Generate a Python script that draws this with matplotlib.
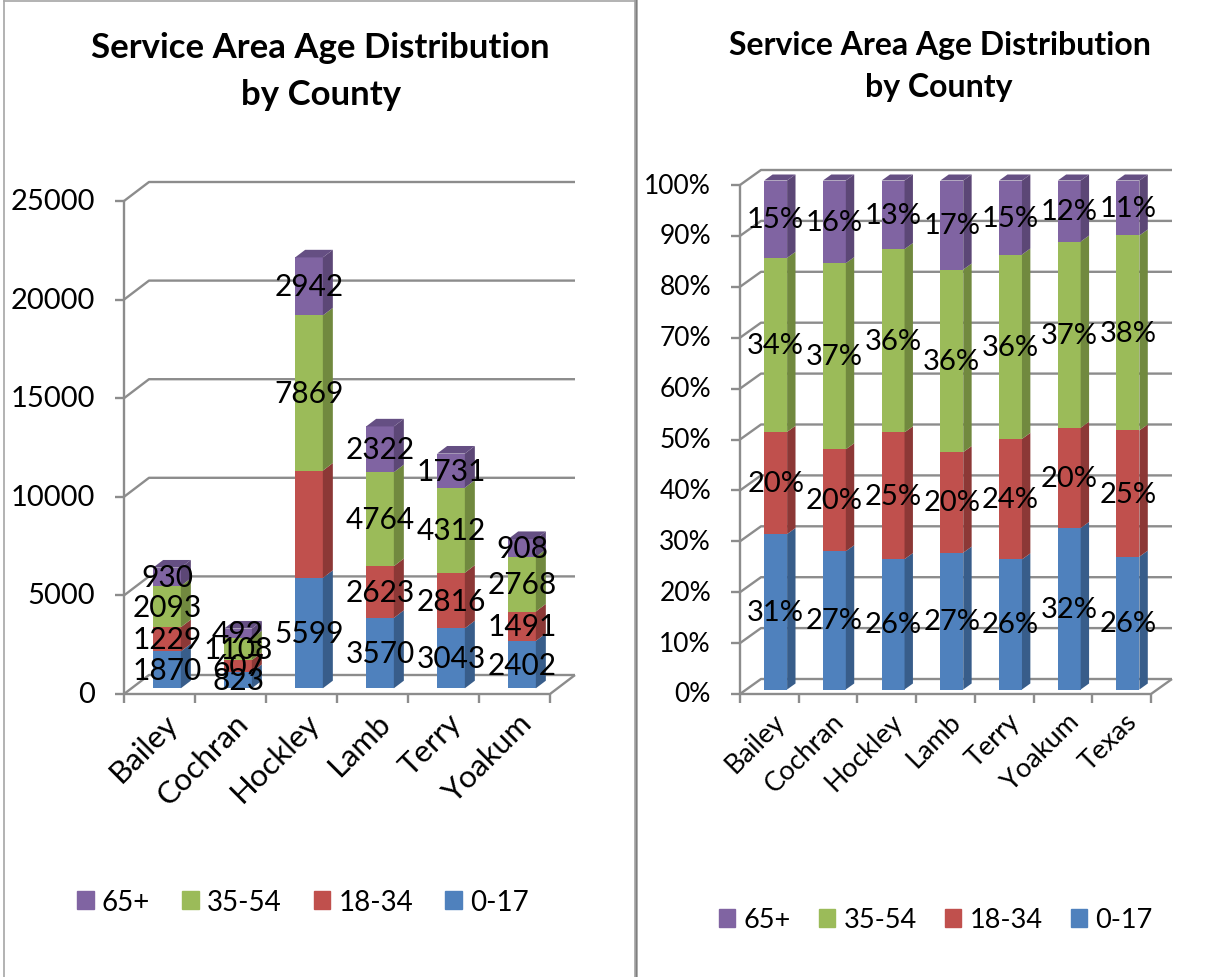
import matplotlib.pyplot as plt
from matplotlib.patches import Polygon, Patch

plt.rcParams['font.family'] = ['Lato', 'DejaVu Sans']

# data
counties = ['Bailey', 'Cochran', 'Hockley', 'Lamb', 'Terry', 'Yoakum']
age_0_17 = [1870, 823, 5599, 3570, 3043, 2402]
age_18_34 = [1229, 607, 5440, 2623, 2816, 1491]   # Hockley value has no label in the original
age_35_54 = [2093, 1108, 7869, 4764, 4312, 2768]
age_65_up = [930, 492, 2942, 2322, 1731, 908]
texas_pct = [26.1, 24.8, 38.3, 10.8]               # 0-17, 18-34, 35-54, 65+
series_names = ['0-17', '18-34', '35-54', '65+']

front_cols = ['#4F81BD', '#C0504D', '#9BBB59', '#8064A2']
side_cols = ['#385D8A', '#8C3836', '#71893F', '#5C4776']
top_col = '#654F83'

W, H = 1230, 978
fig = plt.figure(figsize=(W / 100, H / 100), dpi=100)


def fx(px):
    return px / W


def fy(py):
    return 1 - py / H


def plot_axes(x0, x1, y0, y1, ncat, ymax):
    # axes = front plane of the 3d box (pixel box given)
    ax = fig.add_axes([fx(x0), fy(y0), (x1 - x0) / W, (y0 - y1) / H])
    ax.set_xlim(0, ncat)
    ax.set_ylim(0, ymax)
    ax.axis('off')
    return ax


def draw_chart(ax, cats, stacks, ymax, yticks, yfmt, wall, labels, lsize, tsize, xsize):
    ncat = len(cats)
    pos = ax.get_position()
    kx = pos.width * W / ncat
    ky = pos.height * H / ymax
    wdx = wall[0] / kx
    wdy = wall[1] / ky
    gs = dict(color='#8C8C8C', lw=1.7, solid_capstyle='butt', clip_on=False, zorder=1)

    # walls / gridlines
    for v in yticks:
        ax.plot([0, wdx, ncat + wdx], [v, v + wdy, v + wdy], **gs)
        ax.plot([-9 / kx, 0], [v, v], **gs)
        ax.text(-29 / kx, v, yfmt(v), ha='right', va='center', fontsize=tsize)
    ax.plot([0, 0], [0, ymax], **gs)
    ax.plot([0, ncat, ncat + wdx], [0, 0, wdy], **gs)
    for i in range(ncat + 1):
        ax.plot([i, i], [0, -9 / ky], **gs)

    # bars
    bw = 0.39
    bdx, bdy = 0.4 * wdx, 0.4 * wdy
    for i in range(ncat):
        xc = i + 0.5 + 0.3 * wdx
        base = 0.3 * wdy
        b = 0
        for j, vals in enumerate(stacks):
            h = vals[i]
            ax.bar(xc, h, bottom=base + b, width=bw, color=front_cols[j],
                   clip_on=False, zorder=3)
            xr = xc + bw / 2
            y0, y1 = base + b, base + b + h
            ax.add_patch(Polygon([(xr, y0), (xr + bdx, y0 + bdy), (xr + bdx, y1 + bdy), (xr, y1)],
                                 closed=True, fc=side_cols[j], ec='none', clip_on=False, zorder=3))
            if labels[j][i] is not None:
                ax.text(xc, (y0 + y1) / 2, labels[j][i], ha='center', va='center',
                        fontsize=lsize, zorder=6)
            b += h
        xl = xc - bw / 2
        top = base + b
        ax.add_patch(Polygon([(xl, top), (xl + bw, top), (xl + bw + bdx, top + bdy), (xl + bdx, top + bdy)],
                             closed=True, fc=top_col, ec='none', clip_on=False, zorder=3))

    # category labels
    for i, c in enumerate(cats):
        ax.text(i + 0.55, -14 / ky, c, rotation=45, ha='right', va='top',
                rotation_mode='anchor', fontsize=xsize)


# ---- left chart: counts
stacks_l = [age_0_17, age_18_34, age_35_54, age_65_up]
labels_l = [[str(v) for v in s] for s in stacks_l]
labels_l[1][counties.index('Hockley')] = None
ax1 = plot_axes(124, 550, 695, 202, len(counties), 25000)
draw_chart(ax1, counties, stacks_l, 25000, range(0, 25001, 5000), lambda v: '%d' % v,
           (25, 19), labels_l, 21.5, 21, 22.5)

fig.text(fx(320), fy(48), 'Service Area Age Distribution', ha='center', va='center',
         fontsize=25, fontweight='bold')
fig.text(fx(321), fy(95), 'by County', ha='center', va='center', fontsize=25, fontweight='bold')

handles = [Patch(color=front_cols[j]) for j in [3, 2, 1, 0]]
names = [series_names[j] for j in [3, 2, 1, 0]]
fig.legend(handles, names, loc='center', bbox_to_anchor=(fx(303), fy(903)), ncol=4,
           frameon=False, fontsize=20, handlelength=0.6, handleheight=0.6,
           handletextpad=0.3, columnspacing=1.15)

# ---- right chart: shares
cats_r = counties + ['Texas']
totals = [sum(s[i] for s in stacks_l) for i in range(len(counties))]
stacks_r = []
for j, s in enumerate(stacks_l):
    stacks_r.append([s[i] / totals[i] for i in range(len(counties))] + [texas_pct[j] / 100])
labels_r = [['%.0f%%' % (v * 100) for v in s] for s in stacks_r]
ax2 = plot_axes(740, 1151, 695, 186, len(cats_r), 1.0)
draw_chart(ax2, cats_r, stacks_r, 1.0, [k / 10 for k in range(11)], lambda v: '%d%%' % round(v * 100),
           (21, 15), labels_r, 21, 19, 19.5)

fig.text(fx(940), fy(46), 'Service Area Age Distribution', ha='center', va='center',
         fontsize=23, fontweight='bold')
fig.text(fx(939), fy(88), 'by County', ha='center', va='center', fontsize=23, fontweight='bold')

fig.legend(handles, names, loc='center', bbox_to_anchor=(fx(936), fy(921)), ncol=4,
           frameon=False, fontsize=19.5, handlelength=0.6, handleheight=0.6,
           handletextpad=0.3, columnspacing=1.05)

# frame lines of the two chart boxes
fig.add_artist(plt.Line2D([fx(4), fx(4)], [fy(2), 0], color='#A6A6A6', lw=1.2))
fig.add_artist(plt.Line2D([fx(4), fx(635)], [fy(2), fy(2)], color='#A6A6A6', lw=1.2))
fig.add_artist(plt.Line2D([fx(635.5), fx(635.5)], [1, 0], color='#A0A0A0', lw=2.6))
fig.add_artist(plt.Line2D([fx(635.5), fx(635.5)], [1, 0], color='#7F7F7F', lw=0.8))

fig.savefig('out.png', dpi=100, facecolor='white')
